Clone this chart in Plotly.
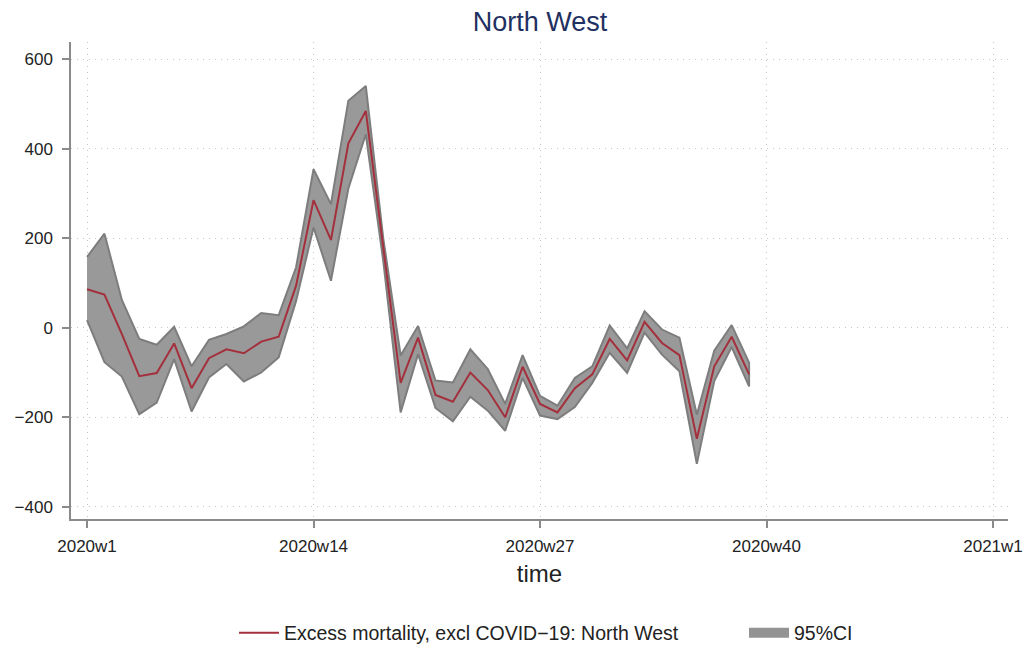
import plotly.graph_objects as go

weeks = list(range(1, 40))
excess = [86, 74, -14, -108, -101, -35, -135, -68, -48, -57, -31, -20, 94,
          285, 196, 412, 484, 175, -123, -22, -150, -165, -100, -139, -200,
          -87, -170, -189, -135, -104, -25, -73, 13, -34, -61, -248, -86, -20, -104]
upper = [158, 210, 62, -25, -38, 2, -86, -27, -14, 3, 33, 28, 135,
         354, 276, 507, 540, 200, -62, 4, -118, -122, -48, -92, -170,
         -61, -152, -174, -112, -86, 5, -46, 37, -4, -22, -194, -51, 6, -78]
lower = [17, -77, -109, -193, -167, -70, -187, -111, -81, -120, -100, -66, 60,
         224, 105, 311, 432, 150, -189, -59, -179, -209, -154, -185, -230,
         -112, -196, -204, -177, -123, -56, -101, -11, -60, -97, -304, -119, -43, -131]

tick_vals = [1, 14, 27, 40, 53]
tick_text = ["2020w1", "2020w14", "2020w27", "2020w40", "2021w1"]
y_ticks = [-400, -200, 0, 200, 400, 600]
y_text = ["\u2212400", "\u2212200", "0", "200", "400", "600"]

fig = go.Figure()
fig.add_trace(go.Scatter(
    x=weeks + weeks[::-1], y=upper + lower[::-1],
    fill="toself", fillcolor="#999999",
    line=dict(color="#7d7d7d", width=2),
    mode="lines", name="95%CI", hoverinfo="skip", showlegend=False))
# legend swatch for the band (box-like key)
fig.add_trace(go.Scatter(
    x=[None], y=[None], mode="lines",
    line=dict(color="#939393", width=14),
    name="95%CI", legend="legend2"))
fig.add_trace(go.Scatter(
    x=weeks, y=excess, mode="lines",
    line=dict(color="#a3303c", width=2),
    name="Excess mortality, excl COVID\u221219: North West", legend="legend"))

font = "Liberation Sans, Arial, Helvetica, sans-serif"
axis_common = dict(
    showgrid=True, gridcolor="#c4c4c4", griddash="1px,5px", gridwidth=1.3,
    showline=True, linecolor="#8a8a8a", linewidth=1.5,
    ticks="outside", ticklen=7, tickcolor="#8a8a8a", tickwidth=1.5,
    zeroline=False, tickfont=dict(size=17, color="#222222"),
    automargin=False,
)
legend_common = dict(orientation="h", xref="container", yref="container",
                     xanchor="left", yanchor="middle", y=0.0355,
                     font=dict(size=19.5, color="#222222"), itemwidth=40,
                     bgcolor="rgba(0,0,0,0)")
fig.update_layout(
    width=1036, height=648,
    margin=dict(l=63, r=36, t=34, b=137),
    paper_bgcolor="white", plot_bgcolor="white",
    font=dict(family=font, size=17, color="#222222"),
    title=dict(text="North West", x=0.5135, xanchor="center", y=0.9785, yanchor="middle",
               font=dict(size=27, color="#1f3162", family=font)),
    showlegend=True,
    legend=dict(x=226 / 1036, **legend_common),
    legend2=dict(x=736 / 1036, **legend_common),
    xaxis=dict(range=[0.08, 53.86], tickmode="array", tickvals=tick_vals, ticktext=tick_text,
               ticklabelstandoff=4,
               title=dict(text="time", font=dict(size=24, color="#222222"), standoff=10),
               **axis_common),
    yaxis=dict(range=[-427, 638], tickmode="array", tickvals=y_ticks, ticktext=y_text,
               ticklabelstandoff=6,
               **axis_common),
)
fig.write_html("out.html")
